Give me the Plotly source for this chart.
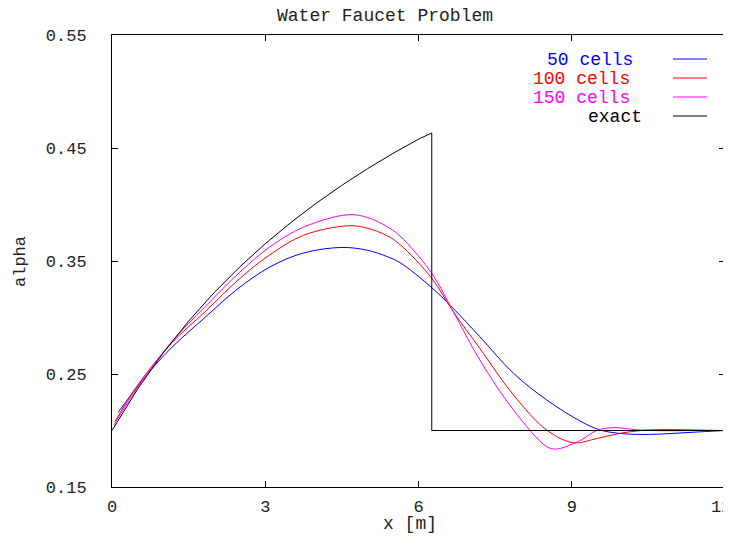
import plotly.graph_objects as go

# values
x_50 = [0.12, 0.65, 1.17, 1.82, 2.45, 3.09, 3.75, 4.50, 5.00, 5.38, 5.64, 6.26, 6.71,
        7.20, 7.86, 8.51, 9.16, 9.55, 10.0, 10.5, 11.0, 11.5, 12.0]
a_50 = [0.216, 0.2476, 0.2735, 0.300, 0.325, 0.3447, 0.3571, 0.362, 0.3595, 0.354,
        0.3485, 0.3264, 0.3066, 0.283, 0.2506, 0.227, 0.2085, 0.2005, 0.1972, 0.1965,
        0.1975, 0.1988, 0.200]

x_100 = [0.06, 0.50, 1.17, 1.82, 2.50, 3.09, 3.75, 4.63, 5.00, 5.38, 5.64, 6.26, 6.68,
         7.20, 7.86, 8.51, 9.03, 9.50, 10.0, 10.5, 11.0, 11.5, 12.0]
a_100 = [0.208, 0.240, 0.2775, 0.305, 0.3345, 0.3555, 0.3728, 0.3812, 0.379, 0.3725,
         0.3645, 0.3347, 0.3052, 0.2727, 0.2314, 0.2004, 0.1892, 0.193, 0.198,
         0.2005, 0.2008, 0.2003, 0.200]

x_150 = [0.04, 0.50, 1.17, 1.82, 2.50, 3.09, 3.75, 4.63, 5.00, 5.38, 5.64, 6.26, 6.68,
         7.20, 7.86, 8.51, 8.70, 9.16, 9.49, 9.81, 10.3, 10.8, 11.5, 12.0]
a_150 = [0.205, 0.238, 0.2785, 0.3095, 0.340, 0.3625, 0.380, 0.391, 0.3885, 0.3805,
         0.372, 0.3391, 0.3052, 0.2624, 0.2181, 0.1857, 0.1836, 0.191, 0.200, 0.2025,
         0.2005, 0.1998, 0.200, 0.200]

x_exact = [0.0, 0.5, 1.0, 1.5, 2.0, 2.5, 3.0, 3.5, 4.0, 4.5, 5.0, 5.5, 6.0, 6.26, 6.26, 12.0]
a_exact = [0.200, 0.2366, 0.2685, 0.2968, 0.3220, 0.3447, 0.3653, 0.3840, 0.4012, 0.4170,
           0.4316, 0.4452, 0.4578, 0.4633, 0.200, 0.200]

x_ticks = [0, 3, 6, 9, 12]
x_ticktext = ['0', '3', '6', '9', '']   # "12" is drawn separately, at the right edge
y_ticks = [0.15, 0.25, 0.35, 0.45, 0.55]

series = [
    ('50 cells', x_50, a_50, '#0000ff'),
    ('100 cells', x_100, a_100, '#ff0000'),
    ('150 cells', x_150, a_150, '#ff00ff'),
]

FONT = 'Liberation Mono, Courier New, monospace'
TXT = '#222222'

fig = go.Figure()
for name, xs, ys, col in series:
    fig.add_trace(go.Scatter(
        x=xs, y=ys, name=name, mode='lines',
        line=dict(color=col, width=1, shape='spline', smoothing=1.0),
    ))
fig.add_trace(go.Scatter(
    x=x_exact, y=a_exact, name='exact', mode='lines',
    line=dict(color='black', width=1),
))

# page has an 8px body margin, so the figure sits at (8, 8) in the window.
# window-pixel -> paper helpers for the plot area (112..725, 35..487 in the window)
W0, W1, H0, H1 = 112, 725, 35, 487
def px(p):
    return (p - W0) / (W1 - W0)
def py(p):
    return (H1 - p) / (H1 - H0)

# gnuplot-like key: right-aligned coloured text, line sample on the right
key = [('50 cells', '#0000ff', 635, 60), ('100 cells', '#ff0000', 632, 79),
       ('150 cells', '#ff00ff', 632, 98), ('exact', 'black', 644, 117)]
for txt, col, xr, yc in key:
    fig.add_annotation(x=px(xr), y=py(yc), xref='paper', yref='paper', text=txt,
                       showarrow=False, xanchor='right', yanchor='middle',
                       font=dict(family=FONT, size=18, color=col))
    fig.add_shape(type='line', xref='paper', yref='paper',
                  x0=px(673), x1=px(707), y0=py(yc - 1), y1=py(yc - 1),
                  line=dict(color=col, width=1))

fig.add_annotation(x=px(385), y=py(16), xref='paper', yref='paper',
                   text='Water Faucet Problem', showarrow=False,
                   xanchor='center', yanchor='middle',
                   font=dict(family=FONT, size=18, color=TXT))
fig.add_annotation(x=px(410), y=py(524), xref='paper', yref='paper',
                   text='x [m]', showarrow=False, xanchor='center', yanchor='middle',
                   font=dict(family=FONT, size=18, color=TXT))
fig.add_annotation(x=px(20), y=py(262), xref='paper', yref='paper',
                   text='alpha', showarrow=False, xanchor='center', yanchor='middle',
                   textangle=-90, font=dict(family=FONT, size=17, color=TXT))
fig.add_annotation(x=x_ticks[-1], y=py(507), xref='x', yref='paper',
                   text=str(x_ticks[-1]), showarrow=False, xanchor='left',
                   xshift=-16, yanchor='middle',
                   font=dict(family=FONT, size=17, color=TXT))

axis_common = dict(
    showgrid=False, zeroline=False, showline=True, linecolor='black', linewidth=1,
    mirror='ticks', ticks='inside', ticklen=6, tickcolor='black', automargin=False,
    tickfont=dict(family=FONT, size=17, color=TXT),
)
fig.update_xaxes(range=[0, 12], tickvals=x_ticks, ticktext=x_ticktext,
                 ticklabelstandoff=4, ticklabeloverflow='allow', **axis_common)
fig.update_yaxes(range=[0.15, 0.55], tickvals=y_ticks,
                 tickformat='.2f', ticklabelstandoff=21, ticklabeloverflow='allow',
                 **axis_common)

fig.update_layout(
    width=723, height=528,
    margin=dict(l=104, r=6, t=27, b=49),
    plot_bgcolor='white', paper_bgcolor='white',
    showlegend=False,
)

fig.write_html('out.html')
